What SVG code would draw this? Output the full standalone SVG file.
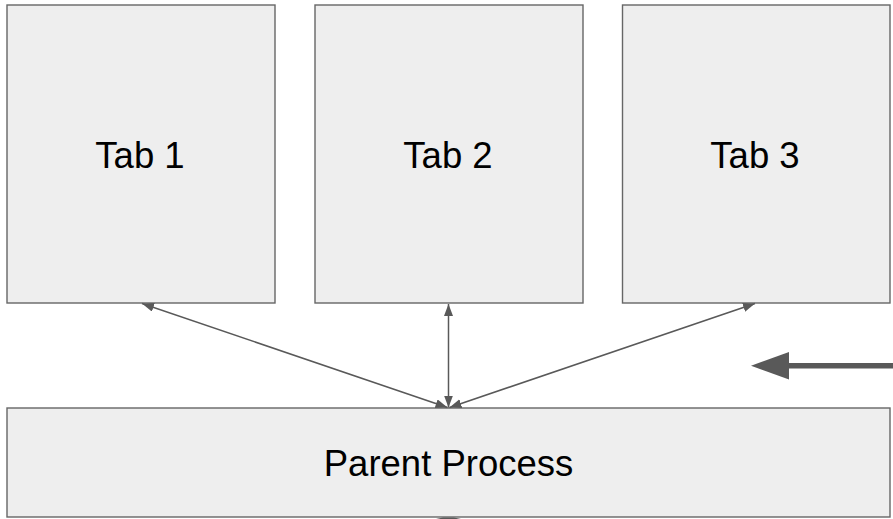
<svg xmlns="http://www.w3.org/2000/svg" width="893" height="519" viewBox="0 0 893 519">
<style>
.box{fill:#eeeeee;stroke:#666666;stroke-width:1.4}
.lbl{font-family:"Liberation Sans",Arial,sans-serif;font-size:36.5px;fill:#000;text-anchor:middle}
.conn{stroke:#595959;stroke-width:1.5;fill:none;marker-start:url(#ah);marker-end:url(#ah)}
</style>
<defs>
<marker id="ah" markerUnits="userSpaceOnUse" markerWidth="13" markerHeight="10" refX="12" refY="4.5" orient="auto-start-reverse">
<path d="M0,0 L12,4.5 L0,9 z" fill="#595959"/>
</marker>
</defs>
<rect width="893" height="519" fill="#ffffff"/>
<g id="tab1"><rect class="box" x="7" y="5" width="268" height="298"/><text class="lbl" x="140" y="167.5">Tab 1</text></g>
<g id="tab2"><rect class="box" x="315" y="5" width="268" height="298"/><text class="lbl" x="448" y="167.5">Tab 2</text></g>
<g id="tab3"><rect class="box" x="622.5" y="5" width="267.5" height="298"/><text class="lbl" x="755" y="167.5">Tab 3</text></g>
<g id="parent"><rect class="box" x="7" y="408" width="883" height="109"/><text class="lbl" x="448.5" y="475.5">Parent Process</text></g>
<g id="connectors">
<line class="conn" x1="142" y1="303.5" x2="447.5" y2="407.5"/>
<line class="conn" x1="448.5" y1="304" x2="448.5" y2="407.5"/>
<line class="conn" x1="755" y1="303.5" x2="449.5" y2="407.5"/>
<line x1="893" y1="365.8" x2="786" y2="365.8" stroke="#595959" stroke-width="5.5"/>
<polygon points="751,365.8 789,352 789,379.5" fill="#595959"/>
<polygon points="436,519 443,517.6 448,517.6 454,517.6 461,519" fill="#595959"/>
</g>
</svg>
